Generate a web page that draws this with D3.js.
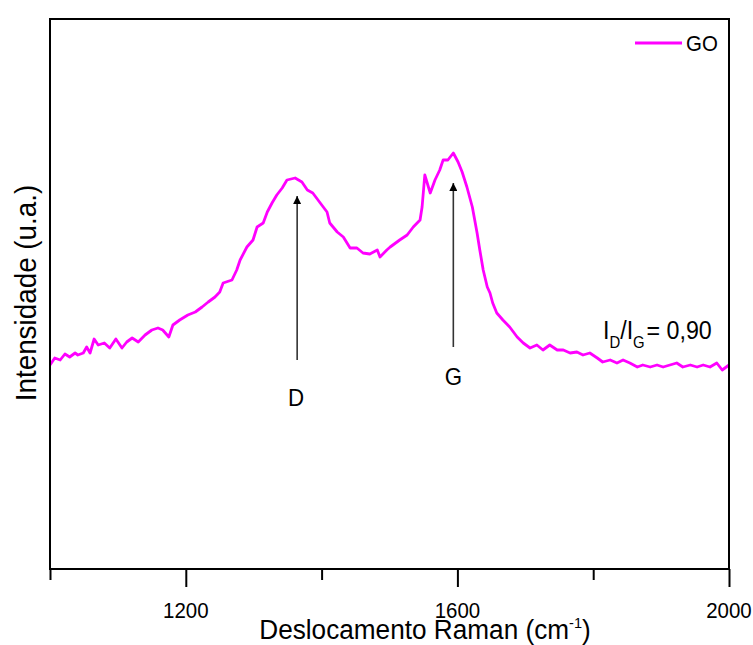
<!DOCTYPE html>
<html>
<head>
<meta charset="utf-8">
<script src="https://cdn.jsdelivr.net/npm/d3@7"></script>
<style>
  html, body { margin: 0; padding: 0; background: #fff; }
  svg { display: block; }
  text { font-family: "Liberation Sans", Arial, sans-serif; fill: #000; }
</style>
</head>
<body>
<svg id="chart" width="753" height="645"></svg>
<script>
// ---- data ----
const wavenumber = [1000,1007,1015,1022,1029,1037,1041,1049,1054,1059,1065,1071,1080,1088,1097,1106,1113,1121,1130,1140,1150,1159,1166,1175,1181,1191,1203,1214,1224,1233,1243,1250,1255,1268,1275,1280,1290,1299,1305,1314,1320,1327,1334,1342,1349,1361,1371,1379,1387,1398,1408,1412,1423,1432,1442,1452,1461,1471,1482,1486,1496,1501,1515,1526,1535,1545,1548,1552,1560,1567,1574,1579,1586,1594,1601,1607,1614,1622,1629,1633,1638,1644,1648,1652,1658,1667,1677,1688,1697,1707,1717,1726,1736,1747,1756,1766,1776,1785,1795,1806,1814,1825,1835,1844,1854,1865,1873,1884,1894,1903,1913,1923,1932,1943,1953,1962,1972,1982,1990,2000];
const intensity = [204,211,209,215,212,216,214,216,222,216,230,224,226,221,230,221,227,231,227,234,239,241,239,232,244,249,254,257,262,267,272,277,286,289,299,309,322,329,342,346,357,366,374,381,389,391,387,379,376,366,357,346,337,332,321,321,316,315,319,312,319,322,329,334,342,349,362,394,376,389,399,409,409,416,407,397,382,362,336,319,299,282,276,266,256,249,242,232,226,221,224,219,224,219,219,216,217,214,216,211,207,209,206,209,206,202,204,202,204,202,204,206,202,204,202,204,202,206,199,204];
const xTickValues = [1200, 1600, 2000];
const xMinorTicks = [1000, 1400, 1800];
const seriesName = "GO";
const bandLabels = ["D", "G"];
const bandPositions = [1364, 1594];      // cm-1
const arrowFrom = [209, 222];            // u.a.
const arrowTo = [373, 386];              // u.a.

// ---- layout ----
const svg = d3.select("#chart");
const W = 753, H = 645;
const m = {left: 50, right: 24, top: 19, bottom: 76};
const x = d3.scaleLinear().domain([1000, 2000]).range([m.left, W - m.right]);
const y = d3.scaleLinear().domain([0, 550]).range([H - m.bottom, m.top]);

function label(g, px, py, txt, size, anchor, rot, sx) {
  const t = g.append("text")
    .attr("transform", `translate(${px},${py}) rotate(${rot||0}) scale(${sx||0.93},1)`)
    .attr("text-anchor", anchor || "middle")
    .style("font-size", size + "px");
  return t.text(txt);
}

// curve
const line = d3.line().x((d, i) => x(wavenumber[i])).y(d => y(d));
svg.append("path")
  .datum(intensity)
  .attr("d", line)
  .attr("fill", "none")
  .attr("stroke", "#ff00ff")
  .attr("stroke-width", 2.8)
  .attr("stroke-linejoin", "round");

// frame
svg.append("rect")
  .attr("x", x(1000)).attr("y", y(550))
  .attr("width", x(2000) - x(1000)).attr("height", y(0) - y(550))
  .attr("fill", "none").attr("stroke", "#000").attr("stroke-width", 2);

// x axis
const xAxis = d3.axisBottom(x).tickValues(xTickValues).tickSize(18).tickFormat("");
const gx = svg.append("g").attr("transform", `translate(0,${y(0)})`).call(xAxis);
gx.select(".domain").remove();
gx.selectAll(".tick line").attr("stroke", "#000").attr("stroke-width", 2);
const gxMinor = svg.append("g").attr("transform", `translate(0,${y(0)})`)
  .call(d3.axisBottom(x).tickValues(xMinorTicks).tickSize(11).tickFormat(""));
gxMinor.select(".domain").remove();
gxMinor.selectAll(".tick line").attr("stroke", "#000").attr("stroke-width", 2);
xTickValues.forEach(v => label(svg, x(v), 618, String(v), 22, "middle"));

// axis titles
const xt = svg.append("text")
  .attr("transform", `translate(425,639) scale(0.97,1)`)
  .attr("text-anchor", "middle").style("font-size", "27px");
xt.append("tspan").text("Deslocamento Raman (cm");
xt.append("tspan").attr("dy", -11).style("font-size", "15px").text("-1");
xt.append("tspan").attr("dy", 11).text(")");

label(svg, 36, 293, "Intensidade (u.a.)", 29, "middle", -90, 0.96);

// legend
svg.append("line")
  .attr("x1", 635).attr("x2", 682).attr("y1", 43).attr("y2", 43)
  .attr("stroke", "#ff00ff").attr("stroke-width", 2.8);
label(svg, 686, 51, seriesName, 22, "start");

// arrows
const defs = svg.append("defs");
defs.append("marker")
  .attr("id", "ah").attr("viewBox", "0 0 10 10").attr("refX", 10).attr("refY", 5)
  .attr("markerWidth", 14).attr("markerHeight", 8).attr("markerUnits", "userSpaceOnUse")
  .attr("orient", "auto")
  .append("path").attr("d", "M0,0 L10,5 L0,10 Z").attr("fill", "#000");

bandPositions.forEach((b, i) => {
  svg.append("line")
    .attr("x1", x(b)).attr("x2", x(b))
    .attr("y1", y(arrowFrom[i])).attr("y2", y(arrowTo[i]))
    .attr("stroke", "#333").attr("stroke-width", 1.6)
    .attr("marker-end", "url(#ah)");
});
label(svg, x(bandPositions[0]) - 1, 406, bandLabels[0], 24, "middle");
label(svg, x(bandPositions[1]), 385, bandLabels[1], 24, "middle");

// ratio annotation
const ra = svg.append("text")
  .attr("transform", `translate(603,339) scale(0.93,1)`)
  .attr("text-anchor", "start").style("font-size", "25px");
ra.append("tspan").text("I");
ra.append("tspan").attr("dy", 9).style("font-size", "16px").text("D");
ra.append("tspan").attr("dy", -9).text("/I");
ra.append("tspan").attr("dy", 9).style("font-size", "16px").text("G");
ra.append("tspan").attr("dy", -9).attr("dx", 2).text("= 0,90");
</script>
</body>
</html>
